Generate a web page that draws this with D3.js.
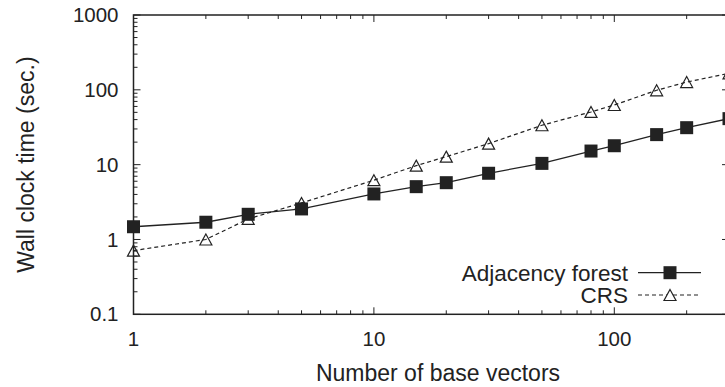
<!DOCTYPE html>
<html>
<head>
<meta charset="utf-8">
<script src="https://cdn.jsdelivr.net/npm/d3@7/dist/d3.min.js"></script>
<style>
  html, body { margin: 0; padding: 0; background: #fff; }
  svg { display: block; }
  text { font-family: "Liberation Sans", Arial, Helvetica, sans-serif; fill: #222; }
</style>
</head>
<body>
<svg id="chart" width="725" height="387"></svg>
<script>
// Number of base vectors (x) and wall clock time in seconds (y)
const baseVectors = [1, 2, 3, 5, 10, 15, 20, 30, 50, 80, 100, 150, 200, 300];
const adjacencyForest = [1.48, 1.70, 2.17, 2.56, 4.06, 5.08, 5.74, 7.67, 10.4, 15.2, 17.9, 25.2, 31.2, 41.2];
const crs = [0.71, 1.0, 1.88, 3.08, 6.2, 9.7, 12.8, 19.1, 33.6, 50.6, 62.7, 98.6, 127, 166];
const xTickLabels = [1, 10, 100];
const yTickLabels = [0.1, 1, 10, 100, 1000];
const seriesNames = ["Adjacency forest", "CRS"];

const svg = d3.select("#chart");
const plotL = 133.5, plotR = 729, plotT = 15, plotB = 314.3;
const ink = "#222";

const x = d3.scaleLog().domain([1, 300]).range([plotL, plotR]);
const y = d3.scaleLog().domain([0.1, 1000]).range([plotB, plotT]);

// minor tick positions: 2..9 in each decade
function minorTicks(lo, hi) {
  const out = [];
  for (let d = lo; d < hi; d *= 10)
    for (let k = 2; k <= 9; k++) if (d * k <= hi * 1.0001) out.push(d * k);
  return out;
}
const xMinor = minorTicks(1, 300);
const yMinor = minorTicks(0.1, 1000);

// frame
svg.append("rect")
  .attr("x", plotL).attr("y", plotT)
  .attr("width", plotR - plotL).attr("height", plotB - plotT)
  .attr("fill", "none").attr("stroke", ink).attr("stroke-width", 1.5);

const majLen = 7, minLen = 4;
const ticks = svg.append("g").attr("stroke", ink).attr("stroke-width", 1);

// bottom and top ticks (inward)
xTickLabels.forEach(v => {
  ticks.append("line").attr("x1", x(v)).attr("x2", x(v)).attr("y1", plotB).attr("y2", plotB - majLen);
  ticks.append("line").attr("x1", x(v)).attr("x2", x(v)).attr("y1", plotT).attr("y2", plotT + majLen);
});
xMinor.forEach(v => {
  ticks.append("line").attr("x1", x(v)).attr("x2", x(v)).attr("y1", plotB).attr("y2", plotB - minLen);
  ticks.append("line").attr("x1", x(v)).attr("x2", x(v)).attr("y1", plotT).attr("y2", plotT + minLen);
});
// left and right ticks (inward)
yTickLabels.forEach(v => {
  ticks.append("line").attr("y1", y(v)).attr("y2", y(v)).attr("x1", plotL).attr("x2", plotL + majLen);
  ticks.append("line").attr("y1", y(v)).attr("y2", y(v)).attr("x1", plotR).attr("x2", plotR - majLen);
});
yMinor.forEach(v => {
  ticks.append("line").attr("y1", y(v)).attr("y2", y(v)).attr("x1", plotL).attr("x2", plotL + minLen);
  ticks.append("line").attr("y1", y(v)).attr("y2", y(v)).attr("x1", plotR).attr("x2", plotR - minLen);
});

// tick labels
const fmt = v => (v < 1 ? String(v) : d3.format("d")(v));
svg.append("g").selectAll("text").data(xTickLabels).join("text")
  .attr("x", d => x(d)).attr("y", 346)
  .attr("text-anchor", "middle").attr("font-size", 20.5)
  .text(fmt);
svg.append("g").selectAll("text").data(yTickLabels).join("text")
  .attr("x", 118.5).attr("y", d => y(d)).attr("dy", "0.35em")
  .attr("text-anchor", "end").attr("font-size", 20.5)
  .text(fmt);

// axis titles
svg.append("text")
  .attr("x", 438).attr("y", 380.5)
  .attr("text-anchor", "middle").attr("font-size", 23)
  .text("Number of base vectors");
svg.append("text")
  .attr("transform", `translate(34,${(plotT + plotB) / 2}) rotate(-90)`)
  .attr("text-anchor", "middle").attr("font-size", 23)
  .text("Wall clock time (sec.)");

// series
const line = d3.line().x(d => x(d[0])).y(d => y(d[1]));
const adjPts = baseVectors.map((v, i) => [v, adjacencyForest[i]]);
const crsPts = baseVectors.map((v, i) => [v, crs[i]]);

const plot = svg.append("g");
plot.append("path").datum(crsPts).attr("d", line)
  .attr("fill", "none").attr("stroke", ink).attr("stroke-width", 1.2)
  .attr("stroke-dasharray", "4,3");
plot.append("path").datum(adjPts).attr("d", line)
  .attr("fill", "none").attr("stroke", ink).attr("stroke-width", 1.3);

const sq = 13;
const tri = (cx, cy) => {
  const w = 12, h = 11;
  return `M${cx},${cy - h / 2}L${cx + w / 2},${cy + h / 2}L${cx - w / 2},${cy + h / 2}Z`;
};
plot.append("g").selectAll("path").data(crsPts).join("path")
  .attr("d", d => tri(x(d[0]), y(d[1])))
  .attr("fill", "none").attr("stroke", ink).attr("stroke-width", 1.2);
plot.append("g").selectAll("rect").data(adjPts).join("rect")
  .attr("x", d => x(d[0]) - sq / 2).attr("y", d => y(d[1]) - sq / 2)
  .attr("width", sq).attr("height", sq).attr("fill", ink);

// legend
const legend = svg.append("g");
const legY = [272.7, 295];
seriesNames.forEach((name, i) => {
  legend.append("text")
    .attr("x", 628).attr("y", legY[i]).attr("dy", "0.35em")
    .attr("text-anchor", "end").attr("font-size", 22.5)
    .text(name);
  legend.append("line")
    .attr("x1", 638).attr("x2", 701).attr("y1", legY[i]).attr("y2", legY[i])
    .attr("stroke", ink).attr("stroke-width", i === 0 ? 1.3 : 1.2)
    .attr("stroke-dasharray", i === 0 ? null : "4,3");
  if (i === 0) {
    legend.append("rect")
      .attr("x", 670 - sq / 2).attr("y", legY[i] - sq / 2)
      .attr("width", sq).attr("height", sq).attr("fill", ink);
  } else {
    legend.append("path").attr("d", tri(670, legY[i]))
      .attr("fill", "#fff").attr("stroke", ink).attr("stroke-width", 1.2);
  }
});
</script>
</body>
</html>
